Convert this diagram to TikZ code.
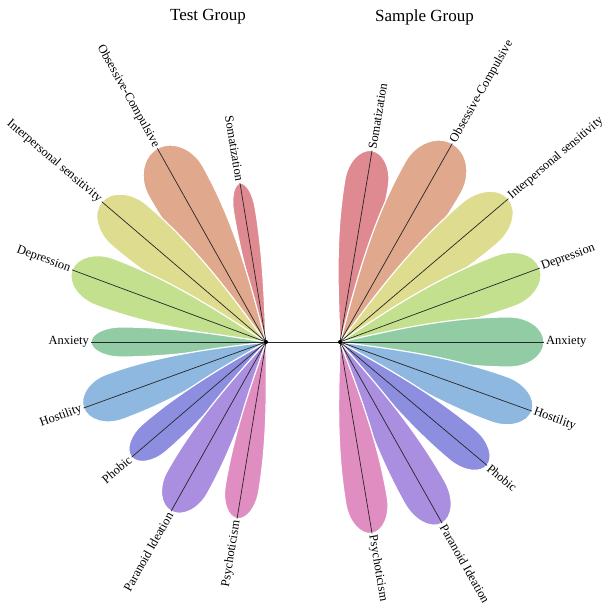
\documentclass[tikz,border=0pt]{standalone}
\usepackage{fontspec}
\setmainfont{Liberation Serif}
\definecolor{csom}{HTML}{DE8A90}
\definecolor{cobs}{HTML}{E0A88C}
\definecolor{cint}{HTML}{DEDC8E}
\definecolor{cdep}{HTML}{C2E08E}
\definecolor{canx}{HTML}{92CCA4}
\definecolor{chos}{HTML}{8EB8E0}
\definecolor{cpho}{HTML}{8E8EE0}
\definecolor{cpar}{HTML}{AA8EE0}
\definecolor{cpsy}{HTML}{E08EC2}
\newcommand{\petal}[5]{%
\begin{scope}[shift={(#1)}, rotate=#2]
\pgfmathsetmacro{\pL}{#3}\pgfmathsetmacro{\pw}{#4}\pgfmathsetmacro{\pc}{0.17*#3}
\fill[#5, draw=white, line width=1.2pt] (0,0) .. controls ({0.2*\pL},{0.35*\pw}) and ({0.5*\pL},\pw) .. ({\pL-\pc},\pw) .. controls ({\pL-0.45*\pc},\pw) and (\pL,{0.55*\pw}) .. (\pL,0) .. controls (\pL,{-0.55*\pw}) and ({\pL-0.45*\pc},-\pw) .. ({\pL-\pc},-\pw) .. controls ({0.5*\pL},-\pw) and ({0.2*\pL},{-0.35*\pw}) .. (0,0) -- cycle;
\end{scope}}
\newcommand{\llab}[4]{%
\node[lab, rotate={#2-180}, anchor=east] (#1) at ([shift={(#2:#3)}]C1) {#4};
\draw[ray] (C1) -- (#1.east);}
\newcommand{\rlab}[4]{%
\node[lab, rotate={#2}, anchor=west] (#1) at ([shift={(#2:#3)}]C2) {#4};
\draw[ray] (C2) -- (#1.west);}
\begin{document}
\begin{tikzpicture}[x=1pt,y=1pt,
  lab/.style={font=\fontsize{12.5}{15}\selectfont, inner sep=2pt},
  ttl/.style={font=\fontsize{17}{20}\selectfont, inner sep=0pt},
  ray/.style={draw=black!85, line width=0.7pt}]
\useasboundingbox (0,0) rectangle (608,609);
\coordinate (C1) at (266,267);
\coordinate (C2) at (340,267);
% left petals
\petal{C1}{99.3}{161}{11}{csom}
\petal{C1}{119.3}{222}{31}{cobs}
\petal{C1}{139.5}{216}{27}{cint}
\petal{C1}{159.6}{207}{25}{cdep}
\petal{C1}{180}{175}{15}{canx}
\petal{C1}{199.9}{194}{24}{chos}
\petal{C1}{220.6}{177}{18}{cpho}
\petal{C1}{240.7}{194}{23}{cpar}
\petal{C1}{260.7}{179}{17}{cpsy}
% right petals
\petal{C2}{80.5}{194}{22}{csom}
\petal{C2}{60.5}{228}{32}{cobs}
\petal{C2}{40.4}{221}{27}{cint}
\petal{C2}{20.3}{213}{27}{cdep}
\petal{C2}{0}{204}{25}{canx}
\petal{C2}{-19.8}{204}{24}{chos}
\petal{C2}{-40}{192}{20}{cpho}
\petal{C2}{-60.6}{208}{23}{cpar}
\petal{C2}{-80.5}{194}{21}{cpsy}
% labels and rays
\llab{lsom}{99.3}{161}{Somatization}
\llab{lobs}{119.3}{222}{Obsessive-Compulsive}
\llab{lint}{139.5}{216}{Interpersonal sensitivity}
\llab{ldep}{159.6}{207}{Depression}
\llab{lanx}{180}{175}{Anxiety}
\llab{lhos}{199.9}{194}{Hostility}
\llab{lpho}{220.6}{177}{Phobic}
\llab{lpar}{240.7}{194}{Paranoid Ideation}
\llab{lpsy}{260.7}{179}{Psychoticism}
\rlab{rsom}{80.5}{194}{Somatization}
\rlab{robs}{60.5}{228}{Obsessive-Compulsive}
\rlab{rint}{40.4}{221}{Interpersonal sensitivity}
\rlab{rdep}{20.3}{213}{Depression}
\rlab{ranx}{0}{204}{Anxiety}
\rlab{rhos}{-19.8}{204}{Hostility}
\rlab{rpho}{-40}{192}{Phobic}
\rlab{rpar}{-60.6}{208}{Paranoid Ideation}
\rlab{rpsy}{-80.5}{194}{Psychoticism}
\draw[ray] (C1) -- (C2);
\fill (C1) circle (2);
\fill (C2) circle (2);
\node[ttl] (t1) at (208,592) {Test Group};
\node[ttl] (t2) at (424.5,592) {Sample Group};
\end{tikzpicture}
\end{document}
